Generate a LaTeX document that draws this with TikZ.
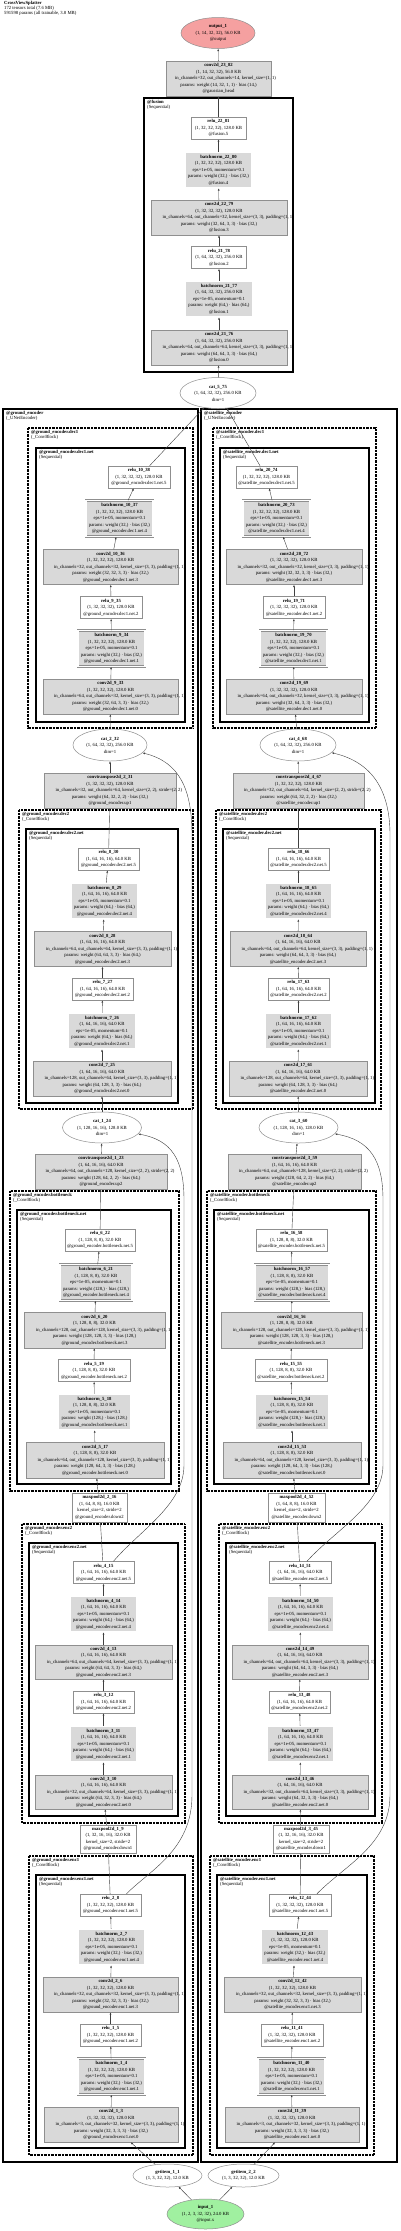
\documentclass[tikz,border=0pt]{standalone}
\usepackage{fontspec}
\setmainfont{Liberation Serif}
\usetikzlibrary{shapes.geometric,arrows.meta}
\definecolor{fillc}{HTML}{D9D9D9}
\definecolor{bordc}{HTML}{8F8F8F}
\definecolor{outc}{HTML}{F5A0A0}
\definecolor{inc}{HTML}{A0F0A0}
\newcommand\nfont{\fontsize{4.7}{6.5}\selectfont}
\newcommand\cfont{\fontsize{4.7}{5}\selectfont}
\newcommand\ov[1]{\makebox[0.86\width][l]{#1}}
\newcommand\epsl{eps=1e-05, momentum=0.1}
\newcommand\shA{(1, 32, 32, 32), 128.0 KB}
\newcommand\shB{(1, 64, 16, 16), 64.0 KB}
\newcommand\shC{(1, 128, 8, 8), 32.0 KB}
\newcommand\shD{(1, 64, 32, 32), 256.0 KB}
\newcommand\shE{(1, 128, 16, 16), 128.0 KB}
\newcommand\grd{@ground\_encoder}
\newcommand\sat{@satellite\_encoder}
\newcommand\rt[3]{\textbf{#1}\\#2\\#3}
\newcommand\bnt[4]{\textbf{#1}\\#2\\\epsl\\params: weight (#3,) · bias (#3,)\\#4}
\newcommand\cvt[5]{\textbf{#1}\\#2\\\ov{in\_channels=#3, out\_channels=#4, kernel\_size=(3, 3), padding=(1, 1)}\\params: weight (#4, #3, 3, 3) · bias (#4,)\\#5}
\tikzset{
 nd/.style={inner sep=0pt, align=center, font=\nfont, line width=0.5pt, draw=bordc},
 conv/.style={nd, rectangle, fill=fillc},
 wbox/.style={nd, rectangle, fill=white},
 bnbox/.style={nd, rectangle, fill=fillc, double=white, double distance=1.1pt},
 oval/.style={nd, ellipse, fill=white},
 sz/.style 2 args={minimum width=#1pt, minimum height=#2pt},
 edge/.style={draw=black!75, line width=0.4pt, -{Latex[length=2.4pt,width=1.9pt]}},
 encbox/.style={draw=black, line width=1.6pt},
 blkbox/.style={draw=black, line width=1.3pt, dash pattern=on 0.7pt off 0.7pt},
 seqbox/.style={draw=black, line width=1.2pt},
 clab/.style={anchor=north west, inner sep=0pt, align=left, font=\cfont},
}
\begin{document}
\begin{tikzpicture}[x=1pt,y=-1pt]
\useasboundingbox (0,0) rectangle (400,2231);
\fill[white] (0,0) rectangle (400,2231);
\node[clab] (hdr) at (4,1.5) {\textbf{CrossViewSplatter}\\172 tensors total (7.6 MB)\\591598 params (all trainable, 3.8 MB)};

% ---------- clusters ----------
\draw[encbox, line width=1.8pt] (144,98) rectangle (293,372);
\node[clab] (lfus) at (147,100) {\textbf{@fusion}\\(Sequential)};

\draw[encbox] (3,409) rectangle (198,2162);
\node[clab] (lge) at (6,411) {\textbf{@ground\_encoder}\\(\_UNetEncoder)};
\draw[blkbox] (28,428) rectangle (193,728);
\node[clab] (lgd1) at (31,430) {\textbf{@ground\_encoder.dec1}\\(\_ConvBlock)};
\draw[seqbox] (36,448) rectangle (185,722);
\node[clab] (lgd1n) at (39,450) {\textbf{@ground\_encoder.dec1.net}\\(Sequential)};
\draw[blkbox] (19,810) rectangle (193,1109);
\node[clab] (lgd2) at (22,812) {\textbf{@ground\_encoder.dec2}\\(\_ConvBlock)};
\draw[seqbox] (26,829) rectangle (178,1103);
\node[clab] (lgd2n) at (29,831) {\textbf{@ground\_encoder.dec2.net}\\(Sequential)};
\draw[blkbox] (10,1191) rectangle (179,1491);
\node[clab] (lgb) at (13,1193) {\textbf{@ground\_encoder.bottleneck}\\(\_ConvBlock)};
\draw[seqbox] (17,1210) rectangle (171,1484);
\node[clab] (lgbn) at (20,1212) {\textbf{@ground\_encoder.bottleneck.net}\\(Sequential)};
\draw[blkbox] (22,1524) rectangle (185,1823);
\node[clab] (lge2) at (25,1526) {\textbf{@ground\_encoder.enc2}\\(\_ConvBlock)};
\draw[seqbox] (29,1543) rectangle (178,1816);
\node[clab] (lge2n) at (32,1545) {\textbf{@ground\_encoder.enc2.net}\\(Sequential)};
\draw[blkbox] (29,1856) rectangle (193,2155);
\node[clab] (lge1) at (32,1858) {\textbf{@ground\_encoder.enc1}\\(\_ConvBlock)};
\draw[seqbox] (36,1875) rectangle (185,2148);
\node[clab] (lge1n) at (39,1877) {\textbf{@ground\_encoder.enc1.net}\\(Sequential)};

\draw[encbox] (201,409) rectangle (397,2162);
\node[clab] (lse) at (204,411) {\textbf{@satellite\_encoder}\\(\_UNetEncoder)};
\draw[blkbox] (213,428) rectangle (376,728);
\node[clab] (lsd1) at (216,430) {\textbf{@satellite\_encoder.dec1}\\(\_ConvBlock)};
\draw[seqbox] (220,448) rectangle (369,722);
\node[clab] (lsd1n) at (223,450) {\textbf{@satellite\_encoder.dec1.net}\\(Sequential)};
\draw[blkbox] (216,810) rectangle (381,1109);
\node[clab] (lsd2) at (219,812) {\textbf{@satellite\_encoder.dec2}\\(\_ConvBlock)};
\draw[seqbox] (223,829) rectangle (375,1103);
\node[clab] (lsd2n) at (226,831) {\textbf{@satellite\_encoder.dec2.net}\\(Sequential)};
\draw[blkbox] (207,1191) rectangle (376,1491);
\node[clab] (lsb) at (210,1193) {\textbf{@satellite\_encoder.bottleneck}\\(\_ConvBlock)};
\draw[seqbox] (214,1210) rectangle (369,1484);
\node[clab] (lsbn) at (217,1212) {\textbf{@satellite\_encoder.bottleneck.net}\\(Sequential)};
\draw[blkbox] (219,1524) rectangle (382,1823);
\node[clab] (lse2) at (222,1526) {\textbf{@satellite\_encoder.enc2}\\(\_ConvBlock)};
\draw[seqbox] (226,1543) rectangle (375,1816);
\node[clab] (lse2n) at (229,1545) {\textbf{@satellite\_encoder.enc2.net}\\(Sequential)};
\draw[blkbox] (210,1856) rectangle (374,2155);
\node[clab] (lse1) at (213,1858) {\textbf{@satellite\_encoder.enc1}\\(\_ConvBlock)};
\draw[seqbox] (217,1875) rectangle (367,2148);
\node[clab] (lse1n) at (220,1877) {\textbf{@satellite\_encoder.enc1.net}\\(Sequential)};

% ---------- top nodes ----------
\node[oval, fill=outc, sz={74}{31}] (out) at (218,33) {\textbf{output\_1}\\(1, 14, 32, 32), 56.0 KB\\@output};
\node[conv, sz={105}{35}] (c23) at (218.5,78.5) {\textbf{conv2d\_23\_82}\\(1, 14, 32, 32), 56.0 KB\\\ov{in\_channels=32, out\_channels=14, kernel\_size=(1, 1)}\\params: weight (14, 32, 1, 1) · bias (14,)\\@gaussian\_head};
\node[wbox, sz={55}{22}] (r22) at (218.5,128) {\rt{relu\_22\_81}{\shA}{@fusion.5}};
\node[bnbox, sz={67}{36}] (b22) at (218.5,170) {\bnt{batchnorm\_22\_80}{\shA}{32}{@fusion.4}};
\node[conv, sz={136}{35}] (c22) at (219,217.5) {\cvt{conv2d\_22\_79}{\shA}{64}{32}{@fusion.3}};
\node[wbox, sz={55}{22}] (r21) at (219,257.5) {\rt{relu\_21\_78}{\shD}{@fusion.2}};
\node[bnbox, sz={68}{36}] (b21) at (219,299) {\bnt{batchnorm\_21\_77}{\shD}{64}{@fusion.1}};
\node[conv, sz={136}{35}] (c21) at (219,347.5) {\cvt{conv2d\_21\_76}{\shD}{64}{64}{@fusion.0}};
\node[oval, sz={76}{31}] (cat5) at (218,393) {\textbf{cat\_5\_75}\\\shD\\dim=1};

% ---------- ground encoder ----------
\node[wbox, sz={62}{22}] (r10) at (139,477) {\rt{relu\_10\_38}{\shA}{\grd.dec1.net.5}};
\node[bnbox, sz={67}{36}] (b10) at (119.5,518.5) {\bnt{batchnorm\_10\_37}{\shA}{32}{\grd.dec1.net.4}};
\node[conv, sz={135}{35}] (c10) at (110.5,567) {\cvt{conv2d\_10\_36}{\shA}{32}{32}{\grd.dec1.net.3}};
\node[wbox, sz={62}{22}] (r9) at (111,607.5) {\rt{relu\_9\_35}{\shA}{\grd.dec1.net.2}};
\node[bnbox, sz={67}{36}] (b9) at (111.5,648.5) {\bnt{batchnorm\_9\_34}{\shA}{32}{\grd.dec1.net.1}};
\node[conv, sz={135}{35}] (c9) at (110.5,696.5) {\cvt{conv2d\_9\_33}{\shA}{64}{32}{\grd.dec1.net.0}};
\node[oval, sz={74}{32}] (cat2) at (110,745) {\textbf{cat\_2\_32}\\\shD\\dim=1};
\node[conv, sz={132}{35}] (ct2) at (110,790.5) {\textbf{convtranspose2d\_2\_31}\\\shA\\\ov{in\_channels=32, out\_channels=64, kernel\_size=(2, 2), stride=(2, 2)}\\params: weight (64, 32, 2, 2) · bias (32,)\\\grd.up1};
\node[wbox, sz={61}{22}] (r8) at (108.5,859) {\rt{relu\_8\_30}{\shB}{\grd.dec2.net.5}};
\node[bnbox, sz={67}{36}] (b8) at (104.5,901) {\bnt{batchnorm\_8\_29}{\shB}{64}{\grd.dec2.net.4}};
\node[conv, sz={137}{35}] (c8) at (102.5,949) {\cvt{conv2d\_8\_28}{\shB}{64}{64}{\grd.dec2.net.3}};
\node[wbox, sz={61}{22}] (r7) at (102.5,989) {\rt{relu\_7\_27}{\shB}{\grd.dec2.net.2}};
\node[bnbox, sz={68}{36}] (b7) at (102,1031) {\bnt{batchnorm\_7\_26}{\shB}{64}{\grd.dec2.net.1}};
\node[conv, sz={138}{35}] (c7) at (102,1078.5) {\cvt{conv2d\_7\_25}{\shB}{128}{64}{\grd.dec2.net.0}};
\node[oval, sz={79}{31}] (cat1) at (102,1127.5) {\textbf{cat\_1\_24}\\\shE\\dim=1};
\node[conv, sz={132}{35}] (ct1) at (101,1171.5) {\textbf{convtranspose2d\_1\_23}\\\shB\\\ov{in\_channels=64, out\_channels=128, kernel\_size=(2, 2), stride=(2, 2)}\\params: weight (128, 64, 2, 2) · bias (64,)\\\grd.up2};
\node[wbox, sz={70}{22}] (r6) at (100,1240) {\rt{relu\_6\_22}{\shC}{\grd.bottleneck.net.5}};
\node[bnbox, sz={72}{36}] (b6) at (96,1282.5) {\bnt{batchnorm\_6\_21}{\shC}{128}{\grd.bottleneck.net.4}};
\node[conv, sz={141}{36}] (c6) at (94.5,1330) {\cvt{conv2d\_6\_20}{\shC}{128}{128}{\grd.bottleneck.net.3}};
\node[wbox, sz={72}{22}] (r5) at (94,1370.5) {\rt{relu\_5\_19}{\shC}{\grd.bottleneck.net.2}};
\node[bnbox, sz={73}{36}] (b5) at (94.5,1412) {\bnt{batchnorm\_5\_18}{\shC}{128}{\grd.bottleneck.net.1}};
\node[conv, sz={138}{36}] (c5) at (95,1460) {\cvt{conv2d\_5\_17}{\shC}{64}{128}{\grd.bottleneck.net.0}};
\node[wbox, sz={55}{29}] (mp2) at (99.5,1507.5) {\textbf{maxpool2d\_2\_16}\\(1, 64, 8, 8), 16.0 KB\\kernel\_size=2, stride=2\\\grd.down2};
\node[wbox, sz={61}{22}] (r4) at (103.5,1572.5) {\rt{relu\_4\_15}{\shB}{\grd.enc2.net.5}};
\node[bnbox, sz={67}{36}] (b4) at (103.5,1614) {\bnt{batchnorm\_4\_14}{\shB}{64}{\grd.enc2.net.4}};
\node[conv, sz={137}{34}] (c4) at (103.5,1662) {\cvt{conv2d\_4\_13}{\shB}{64}{64}{\grd.enc2.net.3}};
\node[wbox, sz={61}{22}] (r3) at (103.5,1702) {\rt{relu\_3\_12}{\shB}{\grd.enc2.net.2}};
\node[bnbox, sz={67}{36}] (b3) at (103.5,1744) {\bnt{batchnorm\_3\_11}{\shB}{64}{\grd.enc2.net.1}};
\node[conv, sz={137}{34}] (c3) at (103.5,1792) {\cvt{conv2d\_3\_10}{\shB}{32}{64}{\grd.enc2.net.0}};
\node[wbox, sz={56}{28}] (mp1) at (108,1839) {\textbf{maxpool2d\_1\_9}\\(1, 32, 16, 16), 32.0 KB\\kernel\_size=2, stride=2\\\grd.down1};
\node[wbox, sz={61}{22}] (r2) at (110.5,1905) {\rt{relu\_2\_8}{\shA}{\grd.enc1.net.5}};
\node[bnbox, sz={67}{36}] (b2) at (111.5,1947) {\bnt{batchnorm\_2\_7}{\shA}{32}{\grd.enc1.net.4}};
\node[conv, sz={135}{35}] (c2) at (110.5,1994.5) {\cvt{conv2d\_2\_6}{\shA}{32}{32}{\grd.enc1.net.3}};
\node[wbox, sz={61}{22}] (r1) at (110.5,2035) {\rt{relu\_1\_5}{\shA}{\grd.enc1.net.2}};
\node[bnbox, sz={67}{36}] (b1) at (111.5,2076.5) {\bnt{batchnorm\_1\_4}{\shA}{32}{\grd.enc1.net.1}};
\node[conv, sz={134}{35}] (c1) at (111,2124.5) {\cvt{conv2d\_1\_3}{\shA}{3}{32}{\grd.enc1.net.0}};

% ---------- satellite encoder ----------
\node[wbox, sz={61}{22}] (r20) at (266.5,477) {\rt{relu\_20\_74}{\shA}{\sat.dec1.net.5}};
\node[bnbox, sz={67}{36}] (b20) at (276.5,518.5) {\bnt{batchnorm\_20\_73}{\shA}{32}{\sat.dec1.net.4}};
\node[conv, sz={136}{35}] (c20) at (294,567) {\cvt{conv2d\_20\_72}{\shA}{32}{32}{\sat.dec1.net.3}};
\node[wbox, sz={62}{22}] (r19) at (294,607.5) {\rt{relu\_19\_71}{\shA}{\sat.dec1.net.2}};
\node[bnbox, sz={67}{36}] (b19) at (293.5,648.5) {\bnt{batchnorm\_19\_70}{\shA}{32}{\sat.dec1.net.1}};
\node[conv, sz={136}{35}] (c19) at (294,696.5) {\cvt{conv2d\_19\_69}{\shA}{64}{32}{\sat.dec1.net.0}};
\node[oval, sz={76}{32}] (cat4) at (298,745) {\textbf{cat\_4\_68}\\\shD\\dim=1};
\node[conv, sz={131}{35}] (ct4) at (298.5,790.5) {\textbf{convtranspose2d\_4\_67}\\\shA\\\ov{in\_channels=32, out\_channels=64, kernel\_size=(2, 2), stride=(2, 2)}\\params: weight (64, 32, 2, 2) · bias (32,)\\\sat.up1};
\node[wbox, sz={61}{22}] (r18) at (298.5,859) {\rt{relu\_18\_66}{\shB}{\sat.dec2.net.5}};
\node[bnbox, sz={67}{36}] (b18) at (298.5,901) {\bnt{batchnorm\_18\_65}{\shB}{64}{\sat.dec2.net.4}};
\node[conv, sz={136}{35}] (c18) at (298,949) {\cvt{conv2d\_18\_64}{\shB}{64}{64}{\sat.dec2.net.3}};
\node[wbox, sz={61}{22}] (r17) at (298.5,989) {\rt{relu\_17\_63}{\shB}{\sat.dec2.net.2}};
\node[bnbox, sz={67}{36}] (b17) at (298.5,1031) {\bnt{batchnorm\_17\_62}{\shB}{64}{\sat.dec2.net.1}};
\node[conv, sz={138}{35}] (c17) at (298,1078.5) {\cvt{conv2d\_17\_61}{\shB}{128}{64}{\sat.dec2.net.0}};
\node[oval, sz={79}{31}] (cat3) at (298.5,1127.5) {\textbf{cat\_3\_60}\\\shE\\dim=1};
\node[conv, sz={133}{35}] (ct3) at (294.5,1171.5) {\textbf{convtranspose2d\_3\_59}\\\shB\\\ov{in\_channels=64, out\_channels=128, kernel\_size=(2, 2), stride=(2, 2)}\\params: weight (128, 64, 2, 2) · bias (64,)\\\sat.up2};
\node[wbox, sz={71}{22}] (r16) at (291.5,1240) {\rt{relu\_16\_58}{\shC}{\sat.bottleneck.net.5}};
\node[bnbox, sz={74}{36}] (b16) at (292,1282.5) {\bnt{batchnorm\_16\_57}{\shC}{128}{\sat.bottleneck.net.4}};
\node[conv, sz={141}{36}] (c16) at (291.5,1330) {\cvt{conv2d\_16\_56}{\shC}{128}{128}{\sat.bottleneck.net.3}};
\node[wbox, sz={72}{22}] (r15) at (291,1370.5) {\rt{relu\_15\_55}{\shC}{\sat.bottleneck.net.2}};
\node[bnbox, sz={74}{36}] (b15) at (292,1412) {\bnt{batchnorm\_15\_54}{\shC}{128}{\sat.bottleneck.net.1}};
\node[conv, sz={138}{36}] (c15) at (292,1460) {\cvt{conv2d\_15\_53}{\shC}{64}{128}{\sat.bottleneck.net.0}};
\node[wbox, sz={57}{29}] (mp4) at (296.5,1507.5) {\textbf{maxpool2d\_4\_52}\\(1, 64, 8, 8), 16.0 KB\\kernel\_size=2, stride=2\\\sat.down2};
\node[wbox, sz={62}{22}] (r14) at (300,1572.5) {\rt{relu\_14\_51}{\shB}{\sat.enc2.net.5}};
\node[bnbox, sz={67}{36}] (b14) at (300.5,1614) {\bnt{batchnorm\_14\_50}{\shB}{64}{\sat.enc2.net.4}};
\node[conv, sz={136}{34}] (c14) at (300,1662) {\cvt{conv2d\_14\_49}{\shB}{64}{64}{\sat.enc2.net.3}};
\node[wbox, sz={61}{22}] (r13) at (299.5,1702) {\rt{relu\_13\_48}{\shB}{\sat.enc2.net.2}};
\node[bnbox, sz={67}{36}] (b13) at (300.5,1744) {\bnt{batchnorm\_13\_47}{\shB}{64}{\sat.enc2.net.1}};
\node[conv, sz={136}{34}] (c13) at (300,1792) {\cvt{conv2d\_13\_46}{\shB}{32}{64}{\sat.enc2.net.0}};
\node[wbox, sz={56}{28}] (mp3) at (301,1839) {\textbf{maxpool2d\_3\_45}\\(1, 32, 16, 16), 32.0 KB\\kernel\_size=2, stride=2\\\sat.down1};
\node[wbox, sz={62}{22}] (r12) at (300,1905) {\rt{relu\_12\_44}{\shA}{\sat.enc1.net.5}};
\node[bnbox, sz={68}{36}] (b12) at (295,1947) {\bnt{batchnorm\_12\_43}{\shA}{32}{\sat.enc1.net.4}};
\node[conv, sz={137}{35}] (c12) at (292.5,1994.5) {\cvt{conv2d\_12\_42}{\shA}{32}{32}{\sat.enc1.net.3}};
\node[wbox, sz={62}{22}] (r11) at (292,2035) {\rt{relu\_11\_41}{\shA}{\sat.enc1.net.2}};
\node[bnbox, sz={67}{36}] (b11) at (291.5,2076.5) {\bnt{batchnorm\_11\_40}{\shA}{32}{\sat.enc1.net.1}};
\node[conv, sz={134}{35}] (c11) at (292,2124.5) {\cvt{conv2d\_11\_39}{\shA}{3}{32}{\sat.enc1.net.0}};

% ---------- bottom ----------
\node[oval, sz={69}{23}] (g1) at (167.5,2175.5) {\textbf{getitem\_1\_1}\\(1, 3, 32, 32), 12.0 KB};
\node[oval, sz={71}{23}] (g2) at (243.5,2175.5) {\textbf{getitem\_2\_2}\\(1, 3, 32, 32), 12.0 KB};
\node[oval, fill=inc, sz={77}{30}] (inp) at (205.5,2214) {\textbf{input\_1}\\(1, 2, 3, 32, 32), 24.0 KB\\@input.x};

% ---------- edges ----------
\draw[edge] (inp) -- (g1);
\draw[edge] (inp) -- (g2);
\draw[edge] (g1) -- (c1);
\draw[edge] (g2) -- (c11);
\foreach \a/\b in {c1/b1,b1/r1,r1/c2,c2/b2,b2/r2,r2/mp1,mp1/c3,c3/b3,b3/r3,r3/c4,c4/b4,b4/r4,r4/mp2,mp2/c5,c5/b5,b5/r5,r5/c6,c6/b6,b6/r6,r6/ct1,ct1/cat1,cat1/c7,c7/b7,b7/r7,r7/c8,c8/b8,b8/r8,r8/ct2,ct2/cat2,cat2/c9,c9/b9,b9/r9,r9/c10,c10/b10,b10/r10,r10/cat5,
 c11/b11,b11/r11,r11/c12,c12/b12,b12/r12,r12/mp3,mp3/c13,c13/b13,b13/r13,r13/c14,c14/b14,b14/r14,r14/mp4,mp4/c15,c15/b15,b15/r15,r15/c16,c16/b16,b16/r16,r16/ct3,ct3/cat3,cat3/c17,c17/b17,b17/r17,r17/c18,c18/b18,b18/r18,r18/ct4,ct4/cat4,cat4/c19,c19/b19,b19/r19,r19/c20,c20/b20,b20/r20,r20/cat5,
 cat5/c21,c21/b21,b21/r21,r21/c22,c22/b22,b22/r22,r22/c23,c23/out}
 {\draw[edge] (\a) -- (\b);}
% skip connections
\draw[edge] ([xshift=16pt]r2.north) .. controls (150,1870) and (192,1850) .. (192,1795) -- (192,835) .. controls (192,790) and (180,762) .. (cat2);
\draw[edge] ([xshift=10pt]r4.north) .. controls (140,1530) and (184,1505) .. (184,1465) -- (184,1200) .. controls (184,1160) and (172,1140) .. (cat1);
\draw[edge] ([xshift=17pt]r12.north) .. controls (345,1865) and (390,1845) .. (390,1795) -- (390,835) .. controls (390,790) and (372,762) .. (cat4);
\draw[edge] ([xshift=7pt]r14.north) .. controls (335,1530) and (383,1505) .. (383,1465) -- (383,1200) .. controls (383,1160) and (370,1140) .. (cat3);
\end{tikzpicture}
\end{document}
